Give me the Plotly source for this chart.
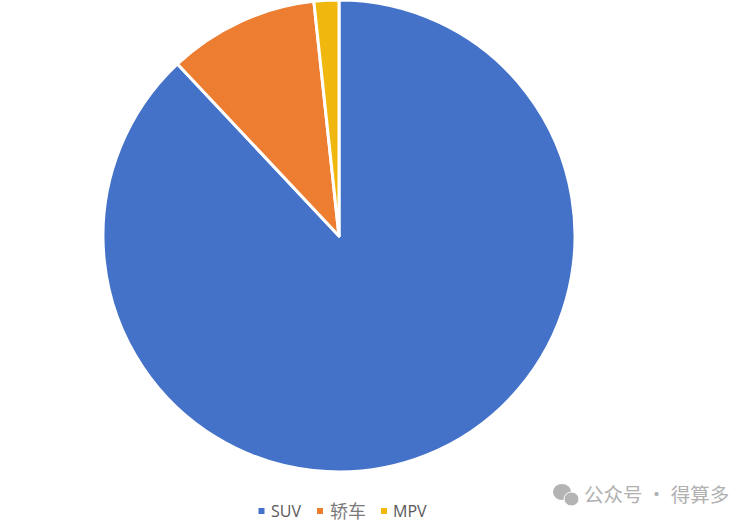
import plotly.graph_objects as go

categories = ["SUV", "轿车", "MPV"]
shares = [88.0, 10.3, 1.7]
colors = ["#4472C9", "#ED7D31", "#F0B80F"]
W, H = 753, 525
cx, cy, r = 339, 236, 236

fig = go.Figure(go.Pie(
    labels=categories, values=shares, sort=False, direction="clockwise", rotation=0,
    marker=dict(colors=colors, line=dict(color="white", width=3)),
    textinfo="none", hoverinfo="label+percent",
    domain=dict(x=[(cx-r)/W, (cx+r)/W], y=[1-(cy+r)/H, 1-(cy-r)/H]),
    showlegend=False,
))

def px(x): return x/W
def py(y): return 1-y/H

# legend
for x, c in zip([261.5, 320, 384], colors):
    fig.add_shape(type="rect", xref="paper", yref="paper", x0=px(x-3), x1=px(x+3),
                  y0=py(514), y1=py(508), fillcolor=c, line_width=0)
for x, t, s, col in zip([270, 329, 392], categories, [16, 18, 16], ["#595959", "#7A7A7A", "#595959"]):
    fig.add_annotation(x=px(x), y=py(510.5), xref="paper", yref="paper", text=t, showarrow=False,
                       xanchor="left", yanchor="middle", xshift=-1,
                       font=dict(family="Open Sans, Noto Sans CJK SC, sans-serif", size=s, color=col))

# watermark
fig.add_shape(type="circle", xref="paper", yref="paper", x0=px(553), x1=px(571), y0=py(500), y1=py(484),
              fillcolor="#B4B4B4", line_width=0)
fig.add_shape(type="circle", xref="paper", yref="paper", x0=px(564), x1=px(579), y0=py(506), y1=py(492),
              fillcolor="#B4B4B4", line=dict(color="white", width=1))
fig.add_annotation(x=px(582), y=py(493.5), xref="paper", yref="paper", text="公众号 · 得算多", showarrow=False,
                   xanchor="left", yanchor="middle",
                   font=dict(family="Noto Sans CJK SC, sans-serif", size=19.5, color="#B0B0B0"))

fig.update_layout(width=W, height=H, margin=dict(l=0, r=0, t=0, b=0),
                  paper_bgcolor="white", plot_bgcolor="white")
fig.write_html("out.html", config=dict(displayModeBar=False),
               post_script="document.body.style.margin='0';document.body.style.overflow='hidden';")
